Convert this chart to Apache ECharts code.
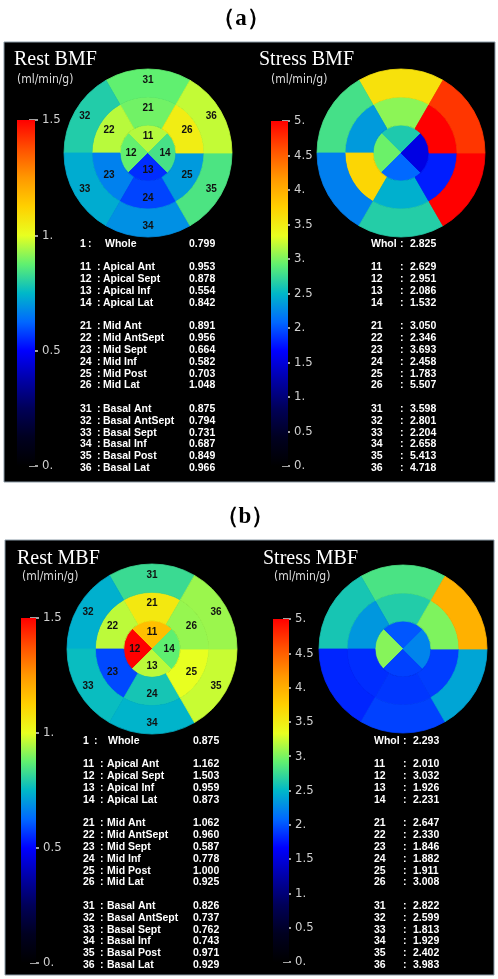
<!DOCTYPE html>
<html>
<head>
<meta charset="utf-8">
<script src="https://cdn.jsdelivr.net/npm/echarts@6/dist/echarts.min.js"></script>
<style>
  html, body { margin: 0; padding: 0; background: #fff; }
  #chart { width: 498px; height: 979px; }
</style>
</head>
<body>
<div id="chart"></div>
<script>
// segment ids / names of the bullseye (apical 4, mid 6, basal 6)
const apicalIds = ['11', '12', '13', '14'];
const midIds = ['21', '22', '23', '24', '25', '26'];
const basalIds = ['31', '32', '33', '34', '35', '36'];
const apicalNames = ['Apical Ant', 'Apical Sept', 'Apical Inf', 'Apical Lat'];
const midNames = ['Mid Ant', 'Mid AntSept', 'Mid Sept', 'Mid Inf', 'Mid Post', 'Mid Lat'];
const basalNames = ['Basal Ant', 'Basal AntSept', 'Basal Sept', 'Basal Inf', 'Basal Post', 'Basal Lat'];

// (a) BMF
const restBmfWhole = 0.799;
const restBmfApical = [0.953, 0.878, 0.554, 0.842];
const restBmfMid = [0.891, 0.956, 0.664, 0.582, 0.703, 1.048];
const restBmfBasal = [0.875, 0.794, 0.731, 0.687, 0.849, 0.966];
const stressBmfWhole = 2.825;
const stressBmfApical = [2.629, 2.951, 2.086, 1.532];
const stressBmfMid = [3.050, 2.346, 3.693, 2.458, 1.783, 5.507];
const stressBmfBasal = [3.598, 2.801, 2.204, 2.658, 5.413, 4.718];

// (b) MBF
const restMbfWhole = 0.875;
const restMbfApical = [1.162, 1.503, 0.959, 0.873];
const restMbfMid = [1.062, 0.960, 0.587, 0.778, 1.000, 0.925];
const restMbfBasal = [0.826, 0.737, 0.762, 0.743, 0.971, 0.929];
const stressMbfWhole = 2.293;
const stressMbfApical = [2.010, 3.032, 1.926, 2.231];
const stressMbfMid = [2.647, 2.330, 1.846, 1.882, 1.911, 3.008];
const stressMbfBasal = [2.822, 2.599, 1.813, 1.929, 2.402, 3.983];

// colour scale (black -> blue -> cyan -> green -> yellow -> red)
const colorScale = ['#000000', '#000020', '#000058', '#0000a8', '#0000ff', '#0068ff', '#00b8c8',
  '#60f070', '#e8ff20', '#ffd000', '#ff9800', '#ff5000', '#ff0000'];

const NARROW = '"Liberation Sans Narrow", "DejaVu Sans Condensed", Arial, sans-serif';
const SANS = '"Liberation Sans", Arial, sans-serif';
const SERIF = '"Liberation Serif", "Times New Roman", serif';

const panels = [
  { title: 'Rest BMF', rest: true, max: 1.5, whole: restBmfWhole, apical: restBmfApical, mid: restBmfMid, basal: restBmfBasal,
    cx: 148, cy: 153, r: 84, tx: 14, ty: 60, ux: 17, uy: 80,
    bar: { x: 17, y: 120, w: 18, h: 346 },
    tab: { y: 244, num: 80, wColon: 88, wName: 105, colon: 97, name: 103, val: 189 } },
  { title: 'Stress BMF', rest: false, max: 5, whole: stressBmfWhole, apical: stressBmfApical, mid: stressBmfMid, basal: stressBmfBasal,
    cx: 401, cy: 153, r: 84, tx: 259, ty: 60, ux: 271, uy: 80,
    bar: { x: 271, y: 121, w: 17, h: 345 },
    tab: { y: 244, num: 371, colon: 400, val: 410 } },
  { title: 'Rest MBF', rest: true, max: 1.5, whole: restMbfWhole, apical: restMbfApical, mid: restMbfMid, basal: restMbfBasal,
    cx: 152, cy: 649, r: 85, tx: 17, ty: 559, ux: 22, uy: 577,
    bar: { x: 21, y: 618, w: 15, h: 345 },
    tab: { y: 741, num: 83, wColon: 94, wName: 108, colon: 100, name: 107, val: 193 } },
  { title: 'Stress MBF', rest: false, max: 5, whole: stressMbfWhole, apical: stressMbfApical, mid: stressMbfMid, basal: stressMbfBasal,
    cx: 403, cy: 649, r: 84, tx: 263, ty: 559, ux: 274, uy: 577,
    bar: { x: 273, y: 619, w: 16, h: 343 },
    tab: { y: 741, num: 374, colon: 403, val: 413 } }
];

const chart = echarts.init(document.getElementById('chart'), null, { renderer: 'canvas' });

const grids = [], xAxes = [], yAxes = [], series = [];
const graphics = [
  { type: 'rect', shape: { x: 4, y: 42, width: 491, height: 440 }, style: { fill: '#000', stroke: '#8a9aa6', lineWidth: 1 }, z: -10 },
  { type: 'rect', shape: { x: 5, y: 540, width: 489, height: 435 }, style: { fill: '#000', stroke: '#8a9aa6', lineWidth: 1 }, z: -10 },
  { type: 'text', x: 241, y: 19, style: { text: '（a）', fill: '#000', font: 'bold 23px ' + SERIF, textAlign: 'center', textVerticalAlign: 'middle' } },
  { type: 'text', x: 245, y: 517, style: { text: '（b）', fill: '#000', font: 'bold 23px ' + SERIF, textAlign: 'center', textVerticalAlign: 'middle' } }
];

function txt(x, y, text, font, fill, align) {
  graphics.push({ type: 'text', x: x, y: y, z: 20,
    style: { text: text, fill: fill || '#fff', font: font, textAlign: align || 'left', textVerticalAlign: 'middle' } });
}

panels.forEach(function (p, i) {
  // colour bar
  grids.push({ left: p.bar.x, top: p.bar.y, width: p.bar.w, height: p.bar.h });
  xAxes.push({ type: 'category', gridIndex: i, data: [''], show: false });
  yAxes.push({
    type: 'value', gridIndex: i, min: 0, max: p.max, interval: 0.5, position: 'right', offset: -6,
    axisLine: { show: false }, splitLine: { show: false },
    axisTick: { show: true, length: p.rest ? 9 : 8, lineStyle: { color: '#d8d8d8', width: 1.5 } },
    axisLabel: { color: '#d0d0d0', fontSize: 13, fontFamily: NARROW, margin: p.rest ? 13 : 12,
      formatter: function (v) { return Number.isInteger(v) ? v + '.' : String(v); } }
  });
  series.push({
    type: 'bar', xAxisIndex: i, yAxisIndex: i, data: [p.max], barWidth: '100%', silent: true,
    itemStyle: { color: new echarts.graphic.LinearGradient(0, 1, 0, 0,
      colorScale.map(function (c, k) { return { offset: k / (colorScale.length - 1), color: c }; })) }
  });

  // bullseye rings: equal slices, coloured by flow value on the bar's scale
  const rings = [
    { ids: apicalIds, vals: p.apical, r: [0, p.r / 3], start: 45 },
    { ids: midIds, vals: p.mid, r: [p.r / 3, 2 * p.r / 3], start: 60 },
    { ids: basalIds, vals: p.basal, r: [2 * p.r / 3, p.r], start: 60 }
  ];
  rings.forEach(function (ring) {
    series.push({
      type: 'pie', center: [p.cx, p.cy], radius: ring.r, startAngle: ring.start, clockwise: false,
      silent: true, emphasis: { disabled: true },
      data: ring.ids.map(function (id, k) {
        const c = echarts.color.lerp(Math.min(ring.vals[k] / p.max, 1), colorScale);
        return { name: id, value: 1, itemStyle: { color: c, borderColor: c, borderWidth: 0.8 } };
      }),
      label: { show: p.rest, position: 'inside', formatter: '{b}', color: '#111', fontSize: 10, fontWeight: 'bold', fontFamily: SANS },
      labelLine: { show: false }
    });
  });

  // titles
  txt(p.tx, p.ty, p.title, '20px ' + SERIF, '#fff');
  txt(p.ux, p.uy, '(ml/min/g)', '12px ' + NARROW, '#dcdcdc');

  // value table
  const f = 'bold 10.5px ' + SANS;
  const t = p.tab, step = 11.8;
  const rows = [];
  rows.push({ row: 0, id: '1', name: 'Whole', v: p.whole });
  apicalIds.forEach(function (id, k) { rows.push({ row: 2 + k, id: id, name: apicalNames[k], v: p.apical[k] }); });
  midIds.forEach(function (id, k) { rows.push({ row: 7 + k, id: id, name: midNames[k], v: p.mid[k] }); });
  basalIds.forEach(function (id, k) { rows.push({ row: 14 + k, id: id, name: basalNames[k], v: p.basal[k] }); });
  rows.forEach(function (r) {
    const y = t.y + r.row * step;
    if (p.rest) {
      txt(t.num, y, r.id, f);
      txt(r.row === 0 ? t.wColon : t.colon, y, ':', f);
      txt(r.row === 0 ? t.wName : t.name, y, r.name, f);
    } else {
      txt(t.num, y, r.row === 0 ? 'Whol' : r.id, f);
      txt(t.colon, y, ':', f);
    }
    txt(t.val, y, r.v.toFixed(3), f);
  });
});

chart.setOption({
  backgroundColor: '#fff',
  animation: false,
  grid: grids,
  xAxis: xAxes,
  yAxis: yAxes,
  series: series,
  graphic: { elements: graphics }
});
</script>
</body>
</html>
